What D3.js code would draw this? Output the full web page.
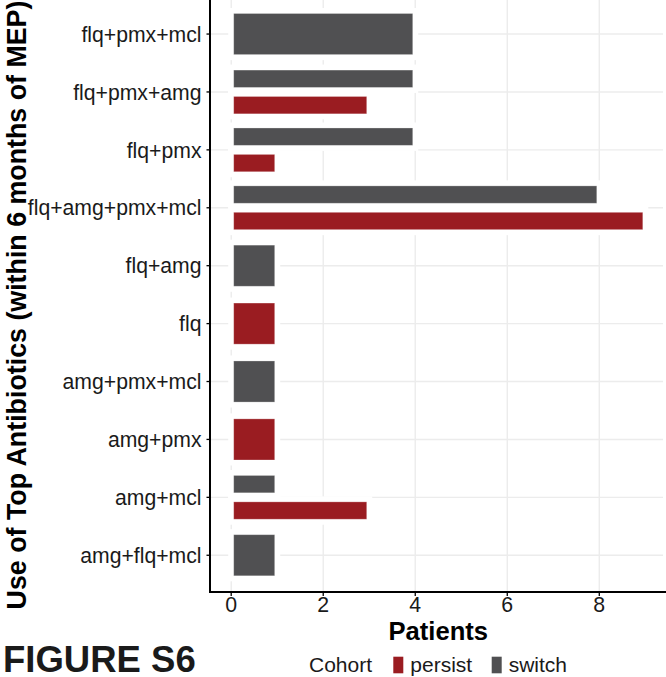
<!DOCTYPE html>
<html>
<head>
<meta charset="utf-8">
<script src="https://cdn.jsdelivr.net/npm/d3@7"></script>
<style>
  html, body { margin: 0; padding: 0; background: #fff; }
  svg { display: block; font-family: "Liberation Sans", Arial, Helvetica, sans-serif; }
</style>
</head>
<body>
<svg id="chart" width="666" height="677"></svg>
<script>
// ---- data ----
const categories = ["flq+pmx+mcl", "flq+pmx+amg", "flq+pmx", "flq+amg+pmx+mcl", "flq+amg",
                    "flq", "amg+pmx+mcl", "amg+pmx", "amg+mcl", "amg+flq+mcl"];
const switchValues  = [4, 4, 4, 8, 1, 0, 1, 0, 1, 1];
const persistValues = [0, 3, 1, 9, 0, 1, 0, 1, 3, 0];
const cohorts = ["persist", "switch"];
const cohortColors = ["#9a1c21", "#505052"];
const xTicks = [0, 2, 4, 6, 8];

const svg = d3.select("#chart");
const W = 666, H = 677;
const panel = { left: 210.5, right: 666, top: -0.7, bottom: 590 };
const axisY = 592;

const x = d3.scaleLinear().domain([-0.45, 9.45]).range([panel.left, panel.right]);
const y = d3.scaleBand().domain(categories).range([panel.top, panel.bottom])
  .paddingInner(0).paddingOuter(0.1);
const color = d3.scaleOrdinal().domain(cohorts).range(cohortColors);

// gridlines
const grid = svg.append("g");
grid.selectAll("line.v").data(xTicks).join("line")
  .attr("x1", d => x(d)).attr("x2", d => x(d))
  .attr("y1", 0).attr("y2", axisY)
  .attr("stroke", "#ececec").attr("stroke-width", 1.4);
grid.selectAll("line.h").data(categories).join("line")
  .attr("x1", panel.left).attr("x2", 663)
  .attr("y1", d => y(d) + y.bandwidth() / 2).attr("y2", d => y(d) + y.bandwidth() / 2)
  .attr("stroke", "#ececec").attr("stroke-width", 1.4);

// bars
const bars = [];
categories.forEach((c, i) => {
  const s = switchValues[i], p = persistValues[i];
  const both = s > 0 && p > 0;
  const step = y.step();
  const center = y(c) + y.bandwidth() / 2;
  if (both) {
    const h = 0.3 * step;
    bars.push({ cat: c, cohort: "switch", value: s, cy: center - 0.228 * step, h });
    bars.push({ cat: c, cohort: "persist", value: p, cy: center + 0.228 * step, h });
  } else {
    const h = 0.71 * step;
    if (s > 0) bars.push({ cat: c, cohort: "switch", value: s, cy: center, h });
    if (p > 0) bars.push({ cat: c, cohort: "persist", value: p, cy: center, h });
  }
});
const inset = 2.5, halo = 5.5;
svg.append("g").selectAll("rect").data(bars).join("rect")
  .attr("x", d => x(0) + inset - halo)
  .attr("width", d => x(d.value) - x(0) - 2 * inset + 2 * halo)
  .attr("y", d => d.cy - d.h / 2 - halo)
  .attr("height", d => d.h + 2 * halo)
  .attr("fill", "#fff");
svg.append("g").selectAll("rect").data(bars).join("rect")
  .attr("x", d => x(0) + inset)
  .attr("width", d => x(d.value) - x(0) - 2 * inset)
  .attr("y", d => d.cy - d.h / 2)
  .attr("height", d => d.h)
  .attr("fill", d => color(d.cohort))
  .attr("stroke", "#fff").attr("stroke-opacity", 0.35).attr("stroke-width", 0.8);

// y axis
const yAxis = svg.append("g");
yAxis.append("line").attr("x1", panel.left - 0.5).attr("x2", panel.left - 0.5)
  .attr("y1", 0).attr("y2", axisY + 1).attr("stroke", "#000").attr("stroke-width", 2);
yAxis.selectAll("line.t").data(categories).join("line")
  .attr("x1", panel.left - 4).attr("x2", panel.left)
  .attr("y1", d => y(d) + y.bandwidth() / 2).attr("y2", d => y(d) + y.bandwidth() / 2)
  .attr("stroke", "#000").attr("stroke-width", 1.3);
yAxis.selectAll("text").data(categories).join("text")
  .attr("x", 201.5).attr("y", d => y(d) + y.bandwidth() / 2)
  .attr("dy", "0.36em").attr("text-anchor", "end")
  .attr("font-size", 21.2).attr("fill", "#1a1a1a").text(d => d);

// x axis
const xAxis = svg.append("g");
xAxis.append("line").attr("x1", panel.left - 1.5).attr("x2", W)
  .attr("y1", axisY).attr("y2", axisY).attr("stroke", "#000").attr("stroke-width", 2);
xAxis.selectAll("line.t").data(xTicks).join("line")
  .attr("x1", d => x(d)).attr("x2", d => x(d))
  .attr("y1", axisY).attr("y2", axisY + 4)
  .attr("stroke", "#000").attr("stroke-width", 1.3);
xAxis.selectAll("text").data(xTicks).join("text")
  .attr("x", d => x(d)).attr("y", 612)
  .attr("text-anchor", "middle").attr("font-size", 21.3).attr("fill", "#1a1a1a")
  .text(d => d);

// axis titles
svg.append("text").attr("x", (panel.left + panel.right) / 2).attr("y", 640)
  .attr("text-anchor", "middle").attr("font-size", 25.6).attr("font-weight", "bold")
  .attr("fill", "#000").text("Patients");
svg.append("text")
  .attr("transform", `translate(25.5,305) rotate(-90)`)
  .attr("text-anchor", "middle").attr("font-size", 26.8).attr("font-weight", "bold")
  .attr("fill", "#000").text("Use of Top Antibiotics (within 6 months of MEP)");

// figure label
svg.append("text").attr("x", 3).attr("y", 672)
  .attr("font-size", 36.5).attr("font-weight", "bold").attr("fill", "#1a1a1a")
  .text("FIGURE S6");

// legend
const legend = svg.append("g");
legend.append("text").attr("x", 309).attr("y", 672).attr("font-size", 21)
  .attr("fill", "#1a1a1a").text("Cohort");
const keyX = [393.3, 491.7];
cohorts.forEach((c, i) => {
  legend.append("rect").attr("x", keyX[i]).attr("y", 656.7).attr("width", 10).attr("height", 16.6)
    .attr("fill", color(c));
  legend.append("text").attr("x", keyX[i] + 17).attr("y", 672).attr("font-size", 21)
    .attr("fill", "#1a1a1a").text(c);
});
</script>
</body>
</html>
